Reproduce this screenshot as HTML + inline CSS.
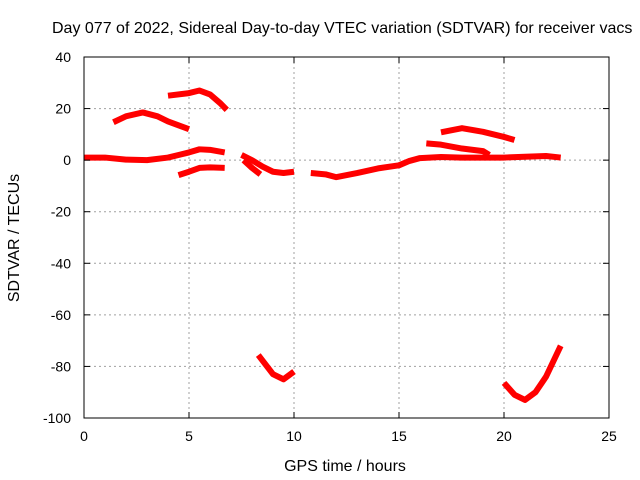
<!DOCTYPE html>
<html><head><meta charset="utf-8"><style>
body{margin:0;background:#fff;}
svg{display:block;font-family:"Liberation Sans",sans-serif;}
</style></head><body>
<svg id="chart" width="640" height="480" viewBox="0 0 640 480">
<rect width="640" height="480" fill="#fff"/>
<g id="grid"></g>
<g id="series"></g>
<rect x="84" y="57" width="525" height="361" fill="none" stroke="#000" stroke-width="1"/>
<g id="ticks"></g>
<text x="52" y="33" font-size="16">Day 077 of 2022, Sidereal Day-to-day VTEC variation (SDTVAR) for receiver vacs</text>
<text x="345" y="471" font-size="16" text-anchor="middle">GPS time / hours</text>
<text transform="translate(19,238) rotate(-90)" font-size="16" text-anchor="middle">SDTVAR / TECUs</text>
</svg>
<script>
const xTicks=[0,5,10,15,20,25];
const yTicks=[40,20,0,-20,-40,-60,-80,-100];
const seg1=[[0,1],[1,1],[2,0.2],[3,0],[4,1],[4.5,2],[5,3],[5.5,4.2],[6,4],[6.7,3]];
const seg2=[[4.5,-5.8],[5,-4.5],[5.5,-3],[6,-2.8],[6.7,-3]];
const seg3=[[1.4,14.7],[2,17],[2.8,18.5],[3.5,17],[4,15],[5,12]];
const seg4=[[4,25],[5,26],[5.5,27],[6,25.5],[6.5,22],[6.8,19.5]];
const seg5=[[7.5,2],[8,0],[8.5,-2.5],[9,-4.5],[9.5,-5],[10,-4.5]];
const seg6=[[7.6,0],[8,-3],[8.4,-5.5]];
const seg7=[[10.8,-5],[11.5,-5.5],[12,-6.6],[13,-5],[14,-3.2],[15,-2],[15.5,-0.3],[16,0.8],[17,1.2],[18,1],[19,1],[20,1],[21,1.3],[22,1.6],[22.7,1]];
const seg8=[[16.3,6.5],[17,6],[18,4.5],[19,3.5],[19.3,2]];
const seg9=[[17,10.8],[18,12.4],[19,11],[20,9],[20.5,7.8]];
const seg10=[[8.3,-75.6],[9,-83],[9.5,-85],[10,-82]];
const seg11=[[20,-86.4],[20.5,-91],[21,-93],[21.5,-90],[22,-84],[22.7,-72]];
const segments=[seg1,seg2,seg3,seg4,seg5,seg6,seg7,seg8,seg9,seg10,seg11];
const NS="http://www.w3.org/2000/svg";
const X=v=>84+v*21;
const Y=v=>57+(40-v)*361/140;
const grid=document.getElementById('grid'),ticks=document.getElementById('ticks'),series=document.getElementById('series');
function mk(tag,attrs,parent){const e=document.createElementNS(NS,tag);for(const k in attrs)e.setAttribute(k,attrs[k]);parent.appendChild(e);return e;}
xTicks.forEach(t=>{
  if(t>0&&t<25){const g=mk('line',{x1:X(t),x2:X(t),y1:57,y2:418,stroke:'#a0a0a0','stroke-dasharray':'2,3'},grid);
  
  }
  mk('line',{x1:X(t),x2:X(t),y1:418,y2:412,stroke:'#000'},ticks);
  mk('line',{x1:X(t),x2:X(t),y1:57,y2:63,stroke:'#000'},ticks);
  const l=mk('text',{x:X(t),y:441,'font-size':14,'text-anchor':'middle'},ticks);l.textContent=t;
  
  
});
yTicks.forEach(t=>{
  if(t<40&&t>-100){const g=mk('line',{x1:84,x2:609,y1:Y(t),y2:Y(t),stroke:'#a0a0a0','stroke-dasharray':'2,3'},grid);
  
  }
  mk('line',{x1:84,x2:90,y1:Y(t),y2:Y(t),stroke:'#000'},ticks);
  mk('line',{x1:609,x2:603,y1:Y(t),y2:Y(t),stroke:'#000'},ticks);
  const l=mk('text',{x:71,y:Y(t)+5,'font-size':14,'text-anchor':'end'},ticks);l.textContent=t;
  
  
});
segments.forEach(s=>{
  const p=mk('polyline',{points:s.map(d=>X(d[0])+','+Y(d[1])).join(' '),fill:'none',stroke:'#ff0000','stroke-width':6,'stroke-linejoin':'round','stroke-linecap':'butt'},series);
  
  
});
</script>
</body></html>
